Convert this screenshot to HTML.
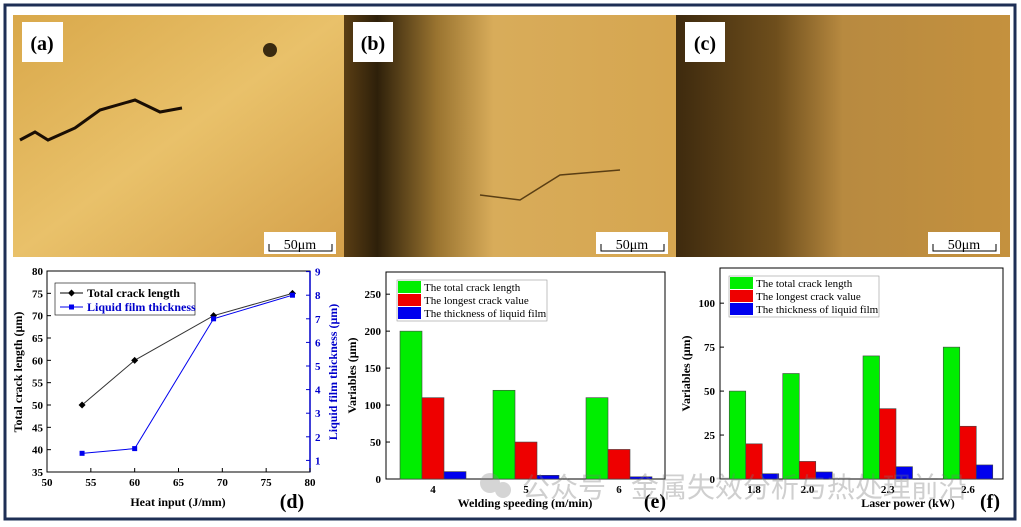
<!DOCTYPE html>
<html><head><meta charset="utf-8">
<style>
html,body{margin:0;padding:0;background:#fff;}
body{width:1021px;height:527px;position:relative;overflow:hidden;font-family:"Liberation Serif",serif;}
svg{position:absolute;left:0;top:0;}
</style></head>
<body>
<svg width="1021" height="527" viewBox="0 0 1021 527">
<defs>
<linearGradient id="ga" x1="0" y1="0" x2="1" y2="1"><stop offset="0" stop-color="#d9a84a"/><stop offset="0.5" stop-color="#e9c16a"/><stop offset="1" stop-color="#d4a04a"/></linearGradient>
<linearGradient id="gb" x1="0" y1="0" x2="1" y2="0"><stop offset="0" stop-color="#5a3e14"/><stop offset="0.1" stop-color="#2e200a"/><stop offset="0.28" stop-color="#9a7430"/><stop offset="0.45" stop-color="#d8ac5a"/><stop offset="1" stop-color="#d6a650"/></linearGradient>
<linearGradient id="gc" x1="0" y1="0" x2="1" y2="0"><stop offset="0" stop-color="#3e2a0e"/><stop offset="0.3" stop-color="#6e4e1c"/><stop offset="0.5" stop-color="#b88a40"/><stop offset="1" stop-color="#c4913e"/></linearGradient>
</defs>
<rect x="5" y="5" width="1010" height="514" fill="#fff" stroke="#1e2f55" stroke-width="3"/>

<g>
<rect x="13" y="15" width="331" height="242" fill="url(#ga)"/>
<path d="M20 140 L35 132 L48 140 L75 128 L100 110 L135 100 L160 112 L182 108" fill="none" stroke="#1a0e04" stroke-width="3"/>
<circle cx="270" cy="50" r="7" fill="#3a2a10"/>
<rect x="22" y="22" width="41" height="40" fill="#fff"/>
<text x="42" y="50" font-size="20" font-weight="bold" text-anchor="middle" fill="#000">(a)</text>
<rect x="264" y="232" width="72" height="22" fill="#fff"/>
<text x="300" y="249" font-size="14" text-anchor="middle">50μm</text>
<path d="M269 244 V251 H332 V244" fill="none" stroke="#000"/>
</g>
<g>
<rect x="344" y="15" width="332" height="242" fill="url(#gb)"/>
<path d="M480 195 L520 200 L560 175 L620 170" fill="none" stroke="#5a3e14" stroke-width="1.5"/>
<rect x="353" y="22" width="40" height="40" fill="#fff"/>
<text x="373" y="50" font-size="20" font-weight="bold" text-anchor="middle">(b)</text>
<rect x="596" y="232" width="72" height="22" fill="#fff"/>
<text x="632" y="249" font-size="14" text-anchor="middle">50μm</text>
<path d="M601 244 V251 H664 V244" fill="none" stroke="#000"/>
</g>
<g>
<rect x="676" y="15" width="334" height="242" fill="url(#gc)"/>
<rect x="685" y="22" width="40" height="40" fill="#fff"/>
<text x="705" y="50" font-size="20" font-weight="bold" text-anchor="middle">(c)</text>
<rect x="928" y="232" width="72" height="22" fill="#fff"/>
<text x="964" y="249" font-size="14" text-anchor="middle">50μm</text>
<path d="M933 244 V251 H996 V244" fill="none" stroke="#000"/>
</g>

<g id="chartD"></g>
<g id="chartE"></g>
<g id="chartF"></g>

<g opacity="0.35">
<circle cx="490" cy="483" r="10" fill="#888"/><circle cx="503" cy="490" r="8" fill="#888"/>
<text x="522" y="497" font-size="28" fill="#777" font-family="'Liberation Sans','Noto Sans CJK SC',sans-serif">公众号 · 金属失效分析与热处理前沿</text>
</g>
</svg>
<script>
const NS='http://www.w3.org/2000/svg';
function mk(p,tag,a,txt){const e=document.createElementNS(NS,tag);for(const k in a)e.setAttribute(k,a[k]);if(txt!==undefined)e.textContent=txt;p.appendChild(e);return e;}

// ---- chart d data
const dHeat=[54,60,69,78];
const dCrack=[50,60,70,75];
const dFilm=[1.3,1.5,7.0,8.0];
const dXTicks=[50,55,60,65,70,75,80];
const dYTicks=[35,40,45,50,55,60,65,70,75,80];
const dY2Ticks=[1,2,3,4,5,6,7,8,9];
// ---- chart e data
const eCats=['4','5','6'];
const eTotal=[200,120,110];
const eLongest=[110,50,40];
const eFilm=[10,5,3];
const eYTicks=[0,50,100,150,200,250];
// ---- chart f data
const fPower=[1.8,2.0,2.3,2.6];
const fLabels=['1.8','2.0','2.3','2.6'];
const fTotal=[50,60,70,75];
const fLongest=[20,10,40,30];
const fFilm=[3,4,7,8];
const fYTicks=[0,25,50,75,100];

(function(){
const g=document.getElementById('chartD');
const x=v=>47+(v-50)/30*263, y=v=>472-(v-35)/45*201, y2=v=>484-v*23.6;
const ax=mk(g,'rect',{x:47,y:271,width:263,height:201,fill:'none',stroke:'#000','stroke-width':1});

mk(g,'line',{x1:310,y1:271,x2:310,y2:472,stroke:'#0000cc','stroke-width':1.5});
dXTicks.forEach(t=>{mk(g,'line',{x1:x(t),y1:472,x2:x(t),y2:468,stroke:'#000'});
 const l=mk(g,'text',{x:x(t),y:486,'font-size':11,'font-weight':'bold','text-anchor':'middle'},t);
 });
dYTicks.forEach(t=>{mk(g,'line',{x1:47,y1:y(t),x2:51,y2:y(t),stroke:'#000'});
 const l=mk(g,'text',{x:43,y:y(t)+4,'font-size':11,'font-weight':'bold','text-anchor':'end'},t);
 });
dY2Ticks.forEach(t=>{mk(g,'line',{x1:310,y1:y2(t),x2:306,y2:y2(t),stroke:'#0000cc'});
 const l=mk(g,'text',{x:315,y:y2(t)+4,'font-size':11,'font-weight':'bold',fill:'#0000cc'},t);
 });
const p1=mk(g,'polyline',{points:dHeat.map((h,i)=>x(h)+','+y(dCrack[i])).join(' '),fill:'none',stroke:'#333','stroke-width':1});

dHeat.forEach((h,i)=>{const m=mk(g,'path',{d:`M${x(h)} ${y(dCrack[i])-3.5}l3.5 3.5l-3.5 3.5l-3.5 -3.5z`,fill:'#000'});
 });
const p2=mk(g,'polyline',{points:dHeat.map((h,i)=>x(h)+','+y2(dFilm[i])).join(' '),fill:'none',stroke:'#0000ee','stroke-width':1});

dHeat.forEach((h,i)=>{const m=mk(g,'rect',{x:x(h)-2.5,y:y2(dFilm[i])-2.5,width:5,height:5,fill:'#0000ee'});
 });
const lg=mk(g,'g',{});
mk(lg,'rect',{x:55,y:283,width:140,height:32,fill:'#fff',stroke:'#000','stroke-width':0.6});
mk(lg,'line',{x1:60,y1:293,x2:83,y2:293,stroke:'#000'});mk(lg,'path',{d:'M71.5 289.5l3.5 3.5l-3.5 3.5l-3.5-3.5z'});
mk(lg,'text',{x:87,y:297,'font-size':12,'font-weight':'bold'},'Total crack length');
mk(lg,'line',{x1:60,y1:307,x2:83,y2:307,stroke:'#00e'});mk(lg,'rect',{x:69,y:304.5,width:5,height:5,fill:'#00e'});
mk(lg,'text',{x:87,y:311,'font-size':12,'font-weight':'bold',fill:'#0000cc'},'Liquid film thickness');
let t=mk(g,'text',{x:178,y:506,'font-size':12,'font-weight':'bold','text-anchor':'middle'},'Heat input (J/mm)');

t=mk(g,'text',{x:0,y:0,'font-size':12,'font-weight':'bold','text-anchor':'middle',transform:'translate(22 372) rotate(-90)'},'Total crack length (μm)');

t=mk(g,'text',{x:0,y:0,'font-size':12,'font-weight':'bold','text-anchor':'middle',fill:'#0000cc',transform:'translate(337 372) rotate(-90)'},'Liquid film thickness (μm)');

t=mk(g,'text',{x:292,y:508,'font-size':20,'font-weight':'bold','text-anchor':'middle'},'(d)');

})();

function barChart(id,cx,top,left,right,bottom,yMax,yTicks,groups,series,labels,bw,legendX,legendY,xTitle,xTitleX,panel,panelX){
const g=document.getElementById(id);
const y=v=>bottom-v/yMax*(bottom-top);
mk(g,'rect',{x:left,y:top,width:right-left,height:bottom-top,fill:'none',stroke:'#000','stroke-width':1});
yTicks.forEach(t=>{mk(g,'line',{x1:left,y1:y(t),x2:left+4,y2:y(t),stroke:'#000'});
 const l=mk(g,'text',{x:left-5,y:y(t)+4,'font-size':11,'font-weight':'bold','text-anchor':'end'},t);
 });
const cols=['#00ee00','#ee0000','#0000ee'];
groups.forEach((gv,i)=>{const c=cx(gv);
 series.forEach((s,k)=>{const r=mk(g,'rect',{x:c+(k-1.5)*bw,y:y(s[i]),width:bw,height:bottom-y(s[i]),fill:cols[k],stroke:'#444','stroke-width':0.6});
  });
 const l=mk(g,'text',{x:c,y:bottom+14,'font-size':11,'font-weight':'bold','text-anchor':'middle'},labels[i]);
 });
const lg=mk(g,'g',{});
mk(lg,'rect',{x:legendX,y:legendY,width:150,height:41,fill:'#fff',stroke:'#999','stroke-width':0.6});
['The total crack length','The longest crack value','The thickness of liquid film'].forEach((n,k)=>{
 mk(lg,'rect',{x:legendX+1,y:legendY+1+k*13,width:23,height:12,fill:cols[k]});
 mk(lg,'text',{x:legendX+27,y:legendY+11+k*13,'font-size':11},n);});
let t=mk(g,'text',{x:xTitleX,y:507,'font-size':12,'font-weight':'bold','text-anchor':'middle'},xTitle);

t=mk(g,'text',{x:0,y:0,'font-size':12,'font-weight':'bold','text-anchor':'middle',transform:`translate(${left-30} ${(top+bottom)/2}) rotate(-90)`},'Variables (μm)');

t=mk(g,'text',{x:panelX,y:508,'font-size':20,'font-weight':'bold','text-anchor':'middle'},panel);

}
barChart('chartE',i=>433+i*93,272,386,665,479,280,eYTicks,[0,1,2],[eTotal,eLongest,eFilm],eCats,22,397,280,'Welding speeding (m/min)',525,'(e)',655);
barChart('chartF',p=>754+(p-1.8)*267.5,268,720,1003,479,120,fYTicks,fPower,[fTotal,fLongest,fFilm],fLabels,16.5,729,276,'Laser power (kW)',908,'(f)',990);
</script>
</body></html>
